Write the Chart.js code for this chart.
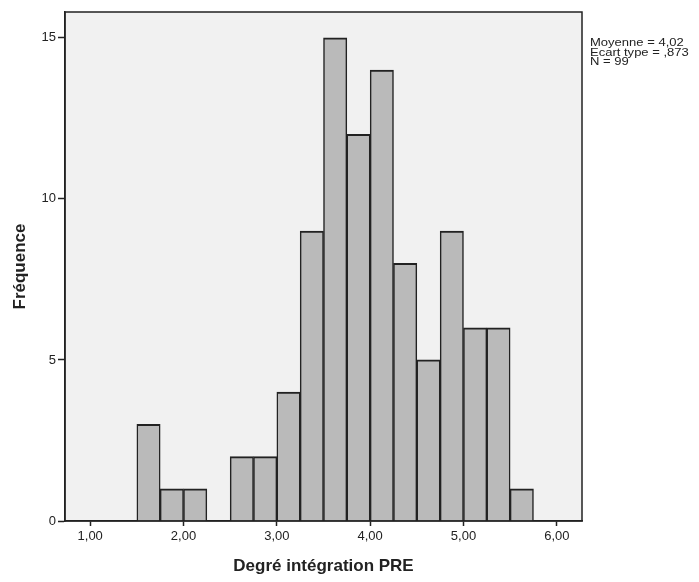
<!DOCTYPE html>
<html>
<head>
<meta charset="utf-8">
<script src="https://cdn.jsdelivr.net/npm/chart.js@4"></script>
<style>
  body{margin:0;background:#fff;}
  #wrap{width:699px;height:582px;position:relative;}
</style>
</head>
<body>
<div id="wrap"><canvas id="histo" width="699" height="582"></canvas></div>
<script>
// classes (borne inferieure), largeur 0.25
const binLows=[1.50,1.75,2.00,2.25,2.50,2.75,3.00,3.25,3.50,3.75,4.00,4.25,4.50,4.75,5.00,5.25,5.50];
const counts=[3,1,1,0,2,2,4,9,15,12,14,8,5,9,6,6,1];
const binWidth=0.25;
const xTicks=[1,2,3,4,5,6];
const yTicks=[0,5,10,15];
const statLines=['Moyenne = 4,02','Ecart type = ,873','N = 99'];

const FONT='"Liberation Sans", Arial, sans-serif';
const INK='#222';

// fond gris + cadre + statistiques
const frame={
    id:'frame',
    beforeDraw(chart){
        const {ctx,chartArea:a}=chart;
        ctx.save();
        ctx.fillStyle='#f1f1f1';
        ctx.fillRect(a.left,a.top,a.right-a.left,a.bottom-a.top);
        ctx.restore();
    },
    afterDraw(chart){
        const {ctx,chartArea:a}=chart;
        ctx.save();
        ctx.strokeStyle=INK;
        ctx.lineWidth=1.5;
        ctx.strokeRect(a.left,a.top,a.right-a.left,a.bottom-a.top);
        // texte statistique, un peu etire comme l'original
        ctx.fillStyle=INK;
        ctx.font='10.5px '+FONT;
        ctx.textBaseline='middle';
        statLines.forEach((t,i)=>{
            ctx.save();
            ctx.translate(a.right+8,a.top+31+i*9.8);
            ctx.scale(1.24,1);
            ctx.fillText(t,0,0);
            ctx.restore();
        });
        ctx.restore();
    }
};

const fmt=v=>v.toFixed(2).replace('.',',');

const config={
    type:'bar',
    data:{
        datasets:[{
            data:binLows.map((lo,i)=>({x:lo+binWidth/2,y:counts[i]})),
            backgroundColor:'#bababa',
            borderColor:INK,
            borderWidth:{top:2,left:1.5,right:1.5,bottom:0},
            borderSkipped:false,
            barPercentage:1,
            categoryPercentage:1
        }]
    },
    options:{
        responsive:false,
        animation:false,
        layout:{padding:{top:12,right:117,left:0,bottom:0}},
        plugins:{legend:{display:false},tooltip:{enabled:false}},
        scales:{
            x:{
                type:'linear',
                min:0.73,
                max:6.27,
                offset:false,
                afterFit:s=>{s.height=61;},
                afterBuildTicks:s=>{s.ticks=xTicks.map(v=>({value:v}));},
                grid:{display:true,drawOnChartArea:false,drawTicks:true,tickLength:5,tickColor:INK,tickWidth:1.5,offset:false},
                border:{display:true,color:INK,width:1.5},
                ticks:{
                    color:INK,padding:3,maxRotation:0,
                    font:{family:FONT,size:13},
                    callback:v=>fmt(v)
                },
                title:{
                    display:true,text:'Degré intégration PRE',color:INK,
                    font:{family:FONT,size:17,weight:'bold'},
                    padding:{top:4,bottom:5}
                }
            },
            y:{
                min:0,
                max:15.8,
                afterFit:s=>{s.width=65;},
                afterBuildTicks:s=>{s.ticks=yTicks.map(v=>({value:v}));},
                grid:{display:true,drawOnChartArea:false,drawTicks:true,tickLength:7,tickColor:INK,tickWidth:1.5},
                border:{display:true,color:INK,width:1.5},
                ticks:{
                    color:INK,padding:2,
                    font:{family:FONT,size:13},
                    callback:v=>String(v)
                },
                title:{
                    display:true,text:'Fréquence',color:INK,
                    font:{family:FONT,size:17,weight:'bold'},
                    padding:{top:10,bottom:4}
                }
            }
        }
    },
    plugins:[frame]
};

new Chart(document.getElementById('histo'),config);
</script>
</body>
</html>
